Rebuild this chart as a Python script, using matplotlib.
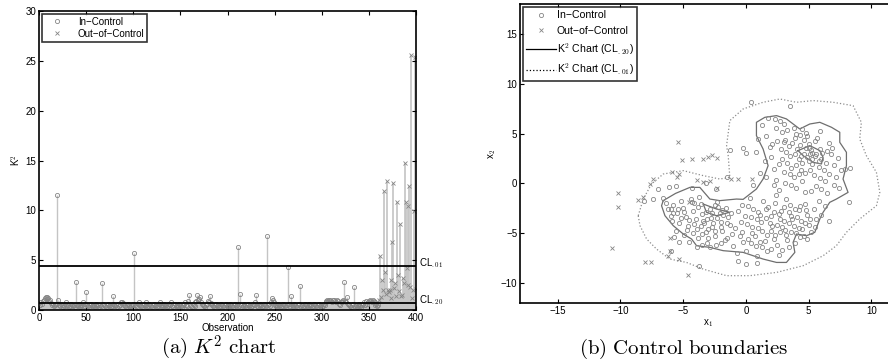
import numpy as np
import matplotlib
matplotlib.use("Agg")
import matplotlib.pyplot as plt
from matplotlib.lines import Line2D

plt.rcParams['font.family'] = ['Liberation Sans', 'DejaVu Sans']
plt.rcParams['mathtext.fontset'] = 'cm'

# ---------------- K^2 statistic per observation ----------------
in_control_k2 = [
    0.5, 0.8, 0.6, 0.9, 1.0, 1.2, 1.3, 1.3, 1.1, 1.2, 0.9, 1.0, 0.7, 0.5, 0.6, 0.4, 0.5, 0.6, 11.5, 1.0,
    0.5, 0.4, 0.6, 0.5, 0.3, 0.4, 0.5, 0.6, 0.8, 0.4, 0.5, 0.3, 0.4, 0.6, 0.5, 0.4, 0.5, 0.3, 2.8, 0.5,
    0.4, 0.6, 0.5, 0.3, 0.4, 0.5, 0.8, 0.4, 0.6, 1.8, 0.5, 0.4, 0.3, 0.5, 0.6, 0.4, 0.5, 0.4, 0.3, 0.5,
    0.6, 0.4, 0.5, 0.3, 0.5, 0.4, 2.7, 0.6, 0.5, 0.4, 0.3, 0.5, 0.6, 0.4, 0.5, 0.3, 0.4, 0.6, 1.4, 0.5,
    0.4, 0.5, 0.3, 0.6, 0.4, 0.5, 0.8, 0.8, 0.7, 0.5, 0.4, 0.3, 0.5, 0.6, 0.4, 0.5, 0.3, 0.4, 0.5, 0.6,
    5.7, 0.5, 0.4, 0.3, 0.6, 0.8, 0.5, 0.4, 0.3, 0.5, 0.6, 0.4, 0.8, 0.5, 0.3, 0.4, 0.6, 0.5, 0.4, 0.3,
    0.5, 0.6, 0.4, 0.5, 0.3, 0.4, 0.6, 0.8, 0.5, 0.4, 0.3, 0.5, 0.6, 0.4, 0.5, 0.3, 0.4, 0.6, 0.5, 0.8,
    0.4, 0.3, 0.5, 0.6, 0.4, 0.5, 0.3, 0.4, 0.6, 0.5, 0.4, 0.3, 0.5, 0.6, 0.8, 0.5, 0.4, 0.9, 1.5, 0.5,
    0.4, 0.3, 0.6, 0.5, 0.4, 0.8, 0.9, 1.5, 1.0, 1.1, 1.3, 0.8, 0.6, 0.5, 0.4, 0.3, 0.5, 0.6, 0.9, 0.8,
    1.4, 0.7, 0.6, 0.5, 0.4, 0.3, 0.5, 0.6, 0.4, 0.5, 0.3, 0.4, 0.6, 0.5, 0.4, 0.3, 0.5, 0.6, 0.4, 0.5,
    0.3, 0.4, 0.6, 0.5, 0.4, 0.3, 0.5, 0.6, 0.4, 0.5, 6.3, 0.4, 1.6, 0.5, 0.3, 0.4, 0.6, 0.5, 0.4, 0.3,
    0.5, 0.6, 0.4, 0.5, 0.3, 0.4, 0.6, 0.5, 0.8, 1.5, 0.4, 0.3, 0.5, 0.6, 0.4, 0.5, 0.3, 0.4, 0.6, 0.5,
    0.4, 7.4, 0.5, 0.6, 0.4, 0.8, 1.2, 1.0, 0.8, 0.5, 0.4, 0.3, 0.5, 0.6, 0.4, 0.5, 0.3, 0.4, 0.6, 0.5,
    0.4, 0.3, 0.5, 4.3, 0.6, 0.4, 1.4, 0.5, 0.3, 0.4, 0.6, 0.5, 0.4, 0.3, 0.5, 0.6, 2.4, 0.4, 0.5, 0.3,
    0.4, 0.6, 0.5, 0.4, 0.3, 0.5, 0.6, 0.4, 0.5, 0.3, 0.4, 0.6, 0.5, 0.4, 0.3, 0.5, 0.6, 0.4, 0.5, 0.3,
    0.4, 0.6, 0.5, 0.8, 0.9, 1.0, 0.9, 1.0, 1.0, 0.9, 0.8, 1.0, 1.0, 0.9, 0.8, 1.0, 0.9, 0.6, 0.5, 0.8,
    0.9, 0.8, 1.0, 2.8, 0.9, 0.8, 1.3, 0.6, 0.5, 0.4, 0.3, 0.5, 0.6, 2.3, 0.4, 0.5, 0.3, 0.4, 0.6, 0.5,
    0.4, 0.3, 0.5, 0.6, 0.8, 0.5, 0.9, 0.6, 0.8, 0.9, 1.0, 0.9, 0.8, 1.0, 0.9, 0.8, 0.5, 0.6, 0.4, 0.5,
]
out_control_k2 = [
    1.0, 5.4, 1.3, 3.0, 2.0, 11.9, 3.8, 1.6, 12.9, 2.0,
    1.8, 2.0, 1.2, 3.0, 6.8, 12.7, 2.2, 2.7, 1.4, 10.8,
    3.5, 1.9, 8.6, 1.4, 1.5, 3.2, 2.7, 14.7, 10.8, 4.2,
    10.4, 2.5, 12.4, 2.3, 25.6, 1.2, 2.0, 9.9, 25.4, 2.1,
]
cl_01 = 4.4
cl_20 = 0.7

# ---------------- two-dimensional observations ----------------
in_x1 = [
    -6.2, -6.0, -5.8, -5.5, -5.3, -5.6, -5.0, -4.8, -4.6, -4.9, -4.4, -4.2, -4.0, -3.9, -3.8, -3.6,
    -3.5, -3.3, -3.2, -3.1, -2.9, -2.8, -2.7, -2.5, -2.4, -2.3, -2.1, -2.0, -1.9, -1.7, -1.6, -1.4,
    -1.3, -1.1, -1.0, -5.9, -5.2, -4.5, -3.7, -3.0, -2.2, -1.8, -4.1, -3.4, -2.6, -6.4, -5.7, -3.9,
    -0.6, -0.4, -0.3, -0.2, 0.0, 0.2, 0.4, 0.5, 0.7, 0.8, 1.0, 1.2, 1.3, 1.5, 1.7, 1.8, 2.0, 2.1,
    2.3, 2.5, 2.6, 2.8, 3.0, 3.1, 3.3, 3.5, 3.6, 3.8, 4.0, 4.2, 4.4, 4.5, 4.7, 4.9, 5.0, 5.2, 5.4,
    5.6, 0.3, 1.4, 2.4, 3.2, 0.9, -0.7, 2.0, 1.6, 2.9, 3.9, 4.6, 0.1, -0.9, 1.1, 3.4, 2.7, 4.1,
    1.3, 1.6, 1.9, 2.0, 2.2, 2.4, 2.6, 2.7, 2.9, 3.0, 3.2, 3.3, 3.5, 3.6, 3.8, 3.9, 4.1, 4.2, 4.4,
    4.5, 4.7, 4.8, 5.0, 5.1, 5.3, 5.4, 5.6, 5.7, 5.9, 6.0, 6.2, 6.3, 6.5, 6.6, 6.8, 7.0, 7.2, 7.4,
    7.6, 7.9, 1.0, 0.8, 1.1, 0.6, 4.6, 4.9, 5.2, 5.5, 5.8, 4.3, 3.4, 2.5, 1.8, 3.5, 0.4,
    -0.2, 0.0, -1.3, 0.9, -0.6, 0.0, -3.7, -5.3, -6.0, -8.1, -7.4, -6.6, -5.6, -4.3, -3.2, -2.4,
    8.2, 6.6, 8.3, -1.5, -7.0, -6.1,
    3.1, 3.7, 4.3, 4.8, 5.3, 5.6, 5.0, 4.5, 4.0, 3.6, 3.0, 2.6, 3.8, 4.2, 4.7, 5.1, 5.8, 6.4, 6.1,
    5.5, 4.9, 4.0, 3.3, 2.4, 2.1, 2.8, 3.5, 4.6, 5.9, 6.6, 7.0, 6.0, 5.2, 4.0, 3.1, 2.2, 1.6, 1.5,
    2.9, 4.4, 5.3, 5.0, 3.9, 3.0, 2.3, 4.5, 5.9, 6.9, 7.3, 6.5,
    0.6, 1.1, 1.6, 2.2, 2.6, 3.0, 3.4, 3.9, 4.3, 4.8, 5.1, 4.7, 4.2, 3.6, 3.2, 2.7, 2.2, 1.7, 1.0,
    0.5, 0.2, -0.1, 0.9, 1.9, 2.5, 3.4, 4.3, 4.9, 5.5, 6.0, 6.3, 5.8, 1.3, 2.0, 2.9, 0.4, -0.5,
    -0.3, 3.7, 2.3,
    -5.4, -4.9, -4.5, -4.1, -3.6, -3.1, -2.7, -2.3, -1.9, -1.5, -2.0, -2.5, -3.0, -3.5, -4.2, -4.7,
    -5.2, -5.8, -3.8, -3.2, -2.5, -1.2, -1.5, -2.0, -2.9, -3.5, -4.3, -6.0,
]
in_x2 = [
    -2.6, -3.3, -2.2, -3.0, -4.0, -4.8, -2.5, -3.4, -4.3, -5.2, -1.6, -2.8, -3.6, -4.6, -5.5, -2.1,
    -3.1, -4.0, -4.9, -6.0, -2.6, -3.5, -4.4, -5.3, -6.2, -1.9, -3.0, -3.9, -4.8, -5.7, -2.5, -3.4,
    -4.2, -5.1, -6.3, -3.8, -1.8, -5.9, -1.4, -5.5, -2.4, -3.2, -2.0, -3.8, -4.0, -2.0, -5.4, -6.4,
    -2.8, -3.9, -4.9, -5.9, -6.8, -2.3, -3.4, -4.4, -5.3, -6.3, -2.9, -3.9, -4.8, -5.8, -6.8, -2.4,
    -3.3, -4.3, -5.2, -6.2, -7.2, -2.8, -3.8, -4.7, -5.7, -2.2, -3.3, -4.3, -5.0, -2.7, -3.8, -4.6,
    -2.1, -3.2, -4.2, -4.9, -2.6, -3.6, -1.5, -1.8, -1.2, -1.6, -7.3, -7.0, -4.8, -3.5, -4.4, -6.0,
    -5.3, -4.1, -4.5, -5.9, -6.4, -3.6, -3.4,
    5.9, 4.8, 3.7, 2.6, 1.4, 0.3, -0.7, 6.3, 5.2, 4.2, 3.2, 2.0, 0.9, -0.2, 5.6, 4.6, 3.5, 2.4, 1.3,
    0.2, -0.9, 5.1, 4.0, 3.0, 1.9, 0.8, -0.3, 4.6, 3.5, 2.4, 1.3, 0.2, -1.0, 4.1, 2.9, 1.8, 0.6, -0.5,
    1.3, 1.4, 4.5, 3.2, 1.0, -0.2, 4.4, 2.6, 3.4, 2.7, 2.2, 4.9, 3.8, 4.3, 6.6, 7.8, 8.2,
    3.6, 3.1, 3.4, -8.0, -7.8, -8.1, -8.3, -5.9, -6.8, -1.8, -1.6, -1.5, -0.3, -0.5, 0.0, -0.6,
    -1.9, -3.8, 1.5, 0.6, -0.6, -0.4,
    4.4, 4.1, 3.9, 3.6, 3.1, 2.9, 2.2, 2.0, 1.8, 1.5, 1.1, 1.9, 0.6, 0.9, 1.0, 1.3, 1.6, 2.0, 3.1,
    4.3, 4.8, 5.0, 5.4, 5.6, 4.0, 3.5, 2.7, 3.0, 0.5, 0.9, -0.2, -0.6, -0.8, -0.5, 0.0, -0.2, 0.6, 2.2,
    2.4, 2.7, 2.4, 3.6, 3.0, 6.0, 6.5, 5.5, 5.3, 3.6, 2.5, 3.3,
    -2.6, -3.2, -2.6, -2.9, -3.1, -2.4, -2.9, -2.6, -2.3, -2.7, -3.6, -4.0, -4.5, -4.9, -5.2, -4.9,
    -5.6, -5.2, -4.5, -5.0, -5.6, -3.3, -3.6, -4.0, -4.2, -4.0, -5.4, -5.6, -4.4, -3.2, -2.3, -1.8,
    -6.4, -6.6, -6.7, -6.0, -5.3, -2.2, -3.6, -2.0,
    -2.6, -2.9, -3.7, -4.1, -4.3, -3.6, -3.0, -3.5, -2.7, -4.0, -4.4, -4.8, -4.6, -5.1, -5.0, -4.7,
    -3.5, -3.0, -2.4, -2.9, -2.2, -3.0, -5.5, -6.0, -6.4, -6.2, -1.9, -2.6,
]
out_x1 = [
    -5.4, -5.1, -4.3, -3.45, -3.0, -2.7, -2.3, -5.9, -5.3, -7.4, -7.65, -10.2, -10.2, -8.6, -8.2,
    -10.7, -8.05, -7.6, -6.06, -6.2, -5.3, -4.6, -6.06, -3.9, -3.4, -2.9, -2.3, -1.15, -0.6, 0.45,
    -5.5, -4.5,
]
out_x2 = [
    4.2, 2.35, 2.45, 2.45, 2.6, 2.8, 2.5, 1.1, 0.9, 0.45, -0.05, -1.0, -2.4, -1.7, -1.4,
    -6.5, -7.9, -7.9, -6.75, -7.3, -7.6, -9.2, -5.5, 0.3, 0.1, 0.2, -0.5, 0.45, 0.4, 0.45,
    0.6, -1.9,
]

# CL.20 boundary: outer loop and two holes
cl20_outer_x1 = [-6.59, -5.6, -4.46, -3.67, -2.87, -2.08, -0.75, -0.22, 0.84, 1.37, 1.77, 1.37, 0.84,
                 0.84, 1.51, 2.44, 3.23, 4.29, 5.09, 5.89, 6.82, 7.48, 7.48, 8.01, 8.01, 7.74, 8.14,
                 7.21, 6.68, 6.15, 5.89, 5.49, 4.83, 4.03, 3.76, 3.90, 3.23, 2.44, 1.37, -0.22, -1.81,
                 -2.87, -3.93, -4.33, -4.99, -5.79, -6.45, -6.72, -6.59]
cl20_outer_x2 = [-1.73, -1.0, -0.40, -0.40, -1.57, -1.73, -1.57, -1.60, -0.56, 0.44, 1.78, 3.45, 4.79,
                 6.13, 6.63, 6.80, 6.47, 5.46, 5.96, 6.13, 5.63, 5.13, 4.12, 3.12, 1.78, 0.44, -0.90,
                 -1.57, -1.90, -2.90, -3.57, -4.91, -5.25, -5.08, -5.92, -6.92, -7.93, -7.93, -7.59,
                 -6.92, -6.75, -6.42, -6.25, -5.58, -5.08, -4.24, -3.24, -2.24, -1.73]
cl20_hole1_x1 = [4.16, 5.09, 5.89, 6.15, 6.02, 5.36, 4.56, 4.16]
cl20_hole1_x2 = [3.29, 3.79, 3.29, 2.62, 1.95, 2.11, 2.78, 3.29]
cl20_hole2_x1 = [-3.4, -2.34, -1.28, -2.34, -3.14, -3.4]
cl20_hole2_x2 = [-2.07, -2.57, -2.9, -3.24, -2.9, -2.07]

# CL.01 boundary
cl01_x1 = [-8.58, -8.18, -7.52, -6.59, -4.99, -3.40, -2.08, -1.28, -1.41, -1.54, -1.28, -0.22, 1.37,
           2.70, 4.03, 5.36, 6.95, 8.54, 9.20, 9.07, 9.60, 10.40, 10.67, 10.40, 9.07, 8.01, 7.21,
           6.15, 4.56, 2.44, 0.31, -1.54, -3.40, -4.73, -6.06, -7.12, -7.91, -8.44, -8.58]
cl01_x2 = [-3.24, -1.57, -0.06, 0.94, 1.28, 0.78, 0.44, 0.61, 2.78, 3.79, 6.30, 7.47, 8.14,
           8.47, 8.14, 8.31, 8.14, 7.80, 6.13, 4.46, 2.78, 1.11, -0.90, -2.24, -3.57, -4.91, -6.25,
           -7.26, -8.26, -8.93, -9.26, -9.26, -8.60, -7.93, -7.59, -6.59, -5.58, -4.24, -3.24]

# ---------------- figure ----------------
W, H = 888, 362
fig = plt.figure(figsize=(W / 100, H / 100), dpi=100)

tick_fs = 7.0
grey_mark = '#858585'
stem_col = '#c4c4c4'


def style_axes(ax):
    ax.tick_params(direction='in', top=True, right=True, length=3, width=0.8,
                   labelsize=tick_fs, pad=2)
    for s in ax.spines.values():
        s.set_linewidth(1.2)


# (a) K^2 chart
ax1 = fig.add_axes([39 / W, 1 - 310 / H, 377 / W, 299 / H])
obs_in = np.arange(1, len(in_control_k2) + 1)
obs_out = np.arange(len(in_control_k2) + 1, len(in_control_k2) + len(out_control_k2) + 1)
ax1.vlines(obs_in, 0, in_control_k2, color=stem_col, lw=1.0, zorder=1)
ax1.vlines(obs_out, 0, out_control_k2, color=stem_col, lw=1.2, zorder=1)
ax1.plot(obs_in, in_control_k2, 'o', ms=3.0, mfc='none', mec=grey_mark, mew=0.6, zorder=2)
ax1.plot(obs_out, out_control_k2, 'x', ms=3.2, mec=grey_mark, mew=0.6, zorder=2)
ax1.axhline(cl_01, color='black', lw=1.3, zorder=3)
ax1.axhline(cl_20, color='black', lw=1.3, zorder=3)
ax1.set_xlim(0, 400)
ax1.set_ylim(0, 30)
ax1.set_xticks(np.arange(0, 401, 50))
ax1.set_yticks(np.arange(0, 31, 5))
style_axes(ax1)
ax1.set_xlabel('Observation', fontsize=tick_fs, labelpad=0)
ax1.set_ylabel(r'K$^2$', fontsize=tick_fs, labelpad=2)
ax1.text(403, cl_01 + 0.3, r'CL$_{.01}$', fontsize=tick_fs, va='center', ha='left', clip_on=False)
ax1.text(403, cl_20 + 0.3, r'CL$_{.20}$', fontsize=tick_fs, va='center', ha='left', clip_on=False)
h_in = Line2D([], [], ls='none', marker='o', ms=3.0, mfc='none', mec=grey_mark, mew=0.6)
h_out = Line2D([], [], ls='none', marker='x', ms=3.2, mec=grey_mark, mew=0.6)
leg1 = ax1.legend([h_in, h_out], ['In\u2212Control', 'Out\u2212of\u2212Control'],
                  loc='upper left', fontsize=tick_fs, frameon=True, fancybox=False,
                  borderaxespad=0.3, handlelength=2.6, borderpad=0.3, labelspacing=0.2)
leg1.get_frame().set_edgecolor('black')
leg1.get_frame().set_linewidth(1.2)

# (b) Control boundaries
ax2 = fig.add_axes([520 / W, 1 - 303 / H, 376.5 / W, 299 / H])
ax2.plot(cl01_x1, cl01_x2, ls=':', color='#8c8c8c', lw=0.9, zorder=1)
ax2.plot(cl20_outer_x1, cl20_outer_x2, ls='-', color='#6e6e6e', lw=0.9, zorder=1)
ax2.plot(cl20_hole1_x1, cl20_hole1_x2, ls='-', color='#6e6e6e', lw=0.9, zorder=1)
ax2.plot(cl20_hole2_x1, cl20_hole2_x2, ls='-', color='#6e6e6e', lw=0.9, zorder=1)
ax2.plot(in_x1, in_x2, 'o', ms=3.0, mfc='none', mec=grey_mark, mew=0.6, zorder=2)
ax2.plot(out_x1, out_x2, 'x', ms=3.2, mec=grey_mark, mew=0.6, zorder=2)
ax2.set_xlim(-18, 12)
ax2.set_ylim(-12, 18)
ax2.set_xticks(np.arange(-15, 11, 5))
ax2.set_yticks(np.arange(-10, 16, 5))
style_axes(ax2)
ax2.set_xlabel(r'x$_1$', fontsize=tick_fs, labelpad=1)
ax2.set_ylabel(r'x$_2$', fontsize=tick_fs, labelpad=2)
h_l20 = Line2D([], [], ls='-', color='black', lw=0.9)
h_l01 = Line2D([], [], ls=':', color='black', lw=0.9)
leg2 = ax2.legend([h_in, h_out, h_l20, h_l01],
                  ['In\u2212Control', 'Out\u2212of\u2212Control',
                   r'K$^2$ Chart (CL$_{.20}$)', r'K$^2$ Chart (CL$_{.01}$)'],
                  loc='upper left', fontsize=7.6, frameon=True, fancybox=False,
                  borderaxespad=0.3, handlelength=2.8, handletextpad=0.1,
                  borderpad=0.3, labelspacing=0.5)
leg2.get_frame().set_edgecolor('black')
leg2.get_frame().set_linewidth(1.2)

# captions
fig.text(219 / W, 1 - 354 / H, r'$\mathrm{(a)}\ K^2\ \mathrm{chart}$', fontsize=15,
         ha='center', va='baseline')
fig.text(684 / W, 1 - 354 / H, r'$\mathrm{(b)\ Control\ boundaries}$', fontsize=15,
         ha='center', va='baseline')

fig.savefig('out.png', dpi=100)
